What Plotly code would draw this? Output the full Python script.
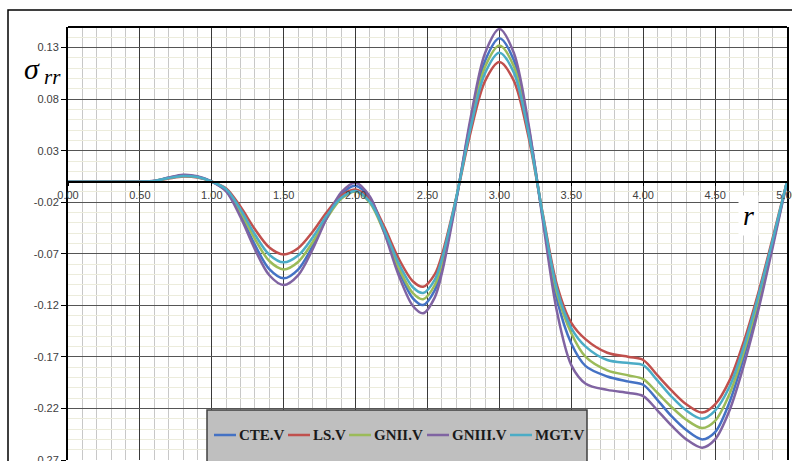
import plotly.graph_objects as go

# ---------------- data ----------------
r_vals = [0.0, 0.1, 0.2, 0.3, 0.4, 0.5, 0.6, 0.7, 0.8, 0.9, 1.0,
          1.1, 1.2, 1.3, 1.4, 1.5, 1.6, 1.7, 1.8, 1.9, 2.0,
          2.1, 2.2, 2.3, 2.4, 2.47, 2.55, 2.6, 2.7, 2.8, 2.9, 3.0,
          3.1, 3.2, 3.3, 3.4, 3.5, 3.6, 3.75, 3.9, 4.0,
          4.1, 4.2, 4.3, 4.41, 4.5, 4.6, 4.7, 4.8, 4.9, 5.0]

cte_v = [0, 0, 0, 0, 0, 0, 0.0007, 0.0038, 0.0060, 0.0048, 0.0,
         -0.0089, -0.0324, -0.0614, -0.0849, -0.0938, -0.0853, -0.0628, -0.0350, -0.0125, -0.0040,
         -0.0164, -0.0484, -0.0861, -0.1134, -0.1196, -0.1054, -0.0831, -0.0169, 0.0583, 0.1170, 0.139,
         0.118, 0.055, -0.033, -0.114, -0.157, -0.179, -0.189, -0.194, -0.197,
         -0.212, -0.228, -0.241, -0.250, -0.243, -0.214, -0.170, -0.119, -0.061, 0.0]

ls_v = [0, 0, 0, 0, 0, 0, 0.0005, 0.0030, 0.0050, 0.0040, 0.0,
        -0.0067, -0.0244, -0.0462, -0.0639, -0.0706, -0.0646, -0.0489, -0.0294, -0.0137, -0.0077,
        -0.0178, -0.0439, -0.0747, -0.0969, -0.1020, -0.0900, -0.0713, -0.0155, 0.0480, 0.0975, 0.116,
        0.098, 0.045, -0.030, -0.100, -0.137, -0.153, -0.166, -0.170, -0.173,
        -0.188, -0.203, -0.216, -0.224, -0.216, -0.193, -0.155, -0.108, -0.055, 0.0]

gnii_v = [0, 0, 0, 0, 0, 0, 0.0006, 0.0035, 0.0055, 0.0045, 0.0,
          -0.0081, -0.0294, -0.0557, -0.0770, -0.0851, -0.0779, -0.0590, -0.0356, -0.0167, -0.0095,
          -0.0207, -0.0496, -0.0837, -0.1084, -0.1140, -0.1005, -0.0793, -0.0163, 0.0552, 0.1111, 0.132,
          0.112, 0.052, -0.032, -0.108, -0.147, -0.170, -0.183, -0.188, -0.1915,
          -0.205, -0.219, -0.231, -0.239, -0.232, -0.206, -0.165, -0.115, -0.059, 0.0]

gniii_v = [0, 0, 0, 0, 0, 0, 0.0008, 0.0040, 0.0066, 0.0052, 0.0,
           -0.0095, -0.0346, -0.0657, -0.0908, -0.1003, -0.0909, -0.0660, -0.0353, -0.0104, -0.0010,
           -0.0146, -0.0497, -0.0910, -0.1209, -0.1277, -0.1125, -0.0888, -0.0182, 0.0620, 0.1246, 0.148,
           0.125, 0.058, -0.036, -0.126, -0.178, -0.196, -0.202, -0.205, -0.208,
           -0.222, -0.237, -0.250, -0.258, -0.250, -0.222, -0.178, -0.125, -0.064, 0.0]

mgt_v = [0, 0, 0, 0, 0, 0, 0.0006, 0.0035, 0.0055, 0.0045, 0.0,
         -0.0074, -0.0270, -0.0513, -0.0709, -0.0783, -0.0717, -0.0544, -0.0329, -0.0156, -0.0090,
         -0.0196, -0.0470, -0.0793, -0.1027, -0.1080, -0.0952, -0.0751, -0.0155, 0.0523, 0.1052, 0.125,
         0.106, 0.049, -0.031, -0.104, -0.142, -0.160, -0.173, -0.176, -0.178,
         -0.193, -0.209, -0.222, -0.230, -0.222, -0.199, -0.160, -0.111, -0.057, 0.0]

series_names = ["CTE.V", "LS.V", "GNII.V", "GNIII.V", "MGT.V"]
series_values = [cte_v, ls_v, gnii_v, gniii_v, mgt_v]
series_colors = ["#4472C4", "#C0504D", "#9BBB59", "#8064A2", "#4BACC6"]

x_ticks = [0.0, 0.5, 1.0, 1.5, 2.0, 2.5, 3.0, 3.5, 4.0, 4.5, 5.0]
x_tick_labels = ["0.00", "0.50", "1.00", "1.50", "2.00", "2.50", "3.00", "3.50", "4.00", "4.50", "5.00"]
y_ticks = [-0.27, -0.22, -0.17, -0.12, -0.07, -0.02, 0.03, 0.08, 0.13]
y_tick_labels = ["-0.27", "-0.22", "-0.17", "-0.12", "-0.07", "-0.02", "0.03", "0.08", "0.13"]

Y_MIN, Y_MAX = -0.27, 0.15
X_MIN, X_MAX = 0.0, 5.0

# ---------------- layout constants (pixels) ----------------
W, H = 792, 461
ML, MR, MT, MB = 68, 5, 27, 1
PW, PH = W - ML - MR, H - MT - MB
LEGEND_LINE_X = [214, 288, 349, 427, 510]   # left end of each legend line sample
LEGEND_LINE_LEN = 22
LEGEND_Y = 435


def px_x(px):
    return (px - ML) / PW


def px_y(py):
    return 1 - (py - MT) / PH


# ---------------- figure ----------------
fig = go.Figure()
for name, vals, col in zip(series_names, series_values, series_colors):
    fig.add_trace(go.Scatter(
        x=r_vals, y=vals, name=name, mode="lines",
        line=dict(color=col, width=2.5, shape="spline", smoothing=0.9),
    ))

tick_font = dict(family="Liberation Sans, Arial, sans-serif", size=11, color="#404040")
math_font = "Liberation Serif, DejaVu Serif, serif"

shapes = [
    # top border of plot area
    dict(type="line", xref="paper", yref="paper", x0=0, x1=1, y0=1, y1=1,
         line=dict(color="black", width=2), layer="above"),
    # outer chart border
    dict(type="rect", xref="paper", yref="paper",
         x0=px_x(8), x1=px_x(830), y0=px_y(500), y1=px_y(10),
         line=dict(color="black", width=1.5), fillcolor="rgba(0,0,0,0)", layer="above"),
    # legend box
    dict(type="rect", xref="paper", yref="paper",
         x0=px_x(207), x1=px_x(587), y0=px_y(480), y1=px_y(410),
         line=dict(color="#404040", width=1.5), fillcolor="#bfbfbf", layer="above"),
]
annotations = [
    # y-axis title  σ_rr
    dict(text="σ", xref="paper", yref="paper",
         x=px_x(42), y=px_y(69), xanchor="right", yanchor="middle", showarrow=False,
         font=dict(family=math_font, size=30, color="black", style="italic")),
    dict(text="rr", xref="paper", yref="paper",
         x=px_x(42), y=px_y(77), xanchor="left", yanchor="middle", showarrow=False,
         font=dict(family=math_font, size=21, color="black", style="italic")),
    # x-axis title  r
    dict(text="r", xref="paper", yref="paper",
         x=px_x(748), y=px_y(215), xanchor="center", yanchor="middle", showarrow=False,
         bgcolor="white", borderpad=4,
         font=dict(family=math_font, size=28, color="black", style="italic")),
]

# legend (line sample + bold label for each series)
for lx, name, col in zip(LEGEND_LINE_X, series_names, series_colors):
    shapes.append(dict(type="line", xref="paper", yref="paper",
                       x0=px_x(lx), x1=px_x(lx + LEGEND_LINE_LEN),
                       y0=px_y(LEGEND_Y), y1=px_y(LEGEND_Y),
                       line=dict(color=col, width=2.5), layer="above"))
    annotations.append(dict(text=name, xref="paper", yref="paper",
                            x=px_x(lx + LEGEND_LINE_LEN + 1), y=px_y(LEGEND_Y),
                            xanchor="left", yanchor="middle", showarrow=False,
                            font=dict(family="Liberation Serif, DejaVu Serif, serif",
                                      size=15, color="#1a1a1a", weight="bold")))

fig.update_layout(
    width=W, height=H,
    margin=dict(l=ML, r=MR, t=MT, b=MB, autoexpand=False),
    paper_bgcolor="white", plot_bgcolor="white",
    showlegend=False,
    xaxis=dict(
        range=[X_MIN, X_MAX], tickmode="array", tickvals=x_ticks, ticktext=x_tick_labels,
        showgrid=True, gridcolor="#3a3a3a", gridwidth=1,
        minor=dict(dtick=0.1, tick0=0, showgrid=True, gridcolor="#c8c8c8", gridwidth=1),
        showline=True, linecolor="black", linewidth=2,
        anchor="free", position=(0 - Y_MIN) / (Y_MAX - Y_MIN),
        ticks="outside", ticklen=3, tickcolor="black",
        tickfont=tick_font, zeroline=False, ticklabeloverflow="allow",
    ),
    yaxis=dict(
        range=[Y_MIN, Y_MAX], tickmode="array", tickvals=y_ticks, ticktext=y_tick_labels,
        showgrid=True, gridcolor="#555555", gridwidth=1,
        minor=dict(dtick=0.01, tick0=Y_MIN, showgrid=True, gridcolor="#ececdc", gridwidth=1),
        showline=True, linecolor="black", linewidth=2, mirror=True,
        ticks="outside", ticklen=5, tickcolor="black",
        tickfont=tick_font, zeroline=False, ticklabeloverflow="allow",
    ),
    shapes=shapes,
    annotations=annotations,
)

fig.write_html("out.html", config={"displayModeBar": False},
               post_script="document.body.style.margin='0px';")
